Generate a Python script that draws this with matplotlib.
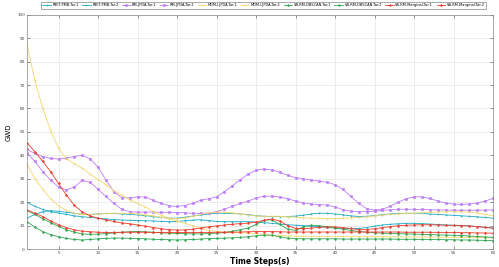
import matplotlib
matplotlib.use('Agg')
import matplotlib.pyplot as plt
import numpy as np

# time steps 1..60
t = np.arange(1, 61)

# GWD per method / target
pmb_t1 = [20, 18.3, 16.9, 16, 15.4, 14.8, 14.2, 13.8, 13.5, 13.2,
          12.9, 12.6, 12.4, 12.3, 12.2, 12.1, 12, 11.8, 11.7, 11.8,
          12.1, 12.4, 12.5, 12.2, 11.8, 11.7, 11.7, 11.7, 11.7, 11.6,
          11.3, 11, 10.7, 10.4, 10.2, 10, 9.8, 9.6, 9.3, 9,
          8.9, 8.8, 8.8, 9.2, 9.8, 10.3, 10.6, 10.8, 11, 11,
          10.9, 10.7, 10.5, 10.3, 10.2, 10.1, 9.9, 9.6, 9.3, 9]
pmb_t2 = [13.2, 14.8, 16, 16.4, 16.1, 15.7, 15.3, 14.8, 14.8, 15,
          15.2, 15.2, 15, 14.8, 14.6, 14.3, 13.9, 13.5, 13.2, 13.2,
          13.6, 14.1, 14.6, 15, 15.3, 15.3, 15.2, 15, 14.7, 14.3,
          14, 13.9, 13.9, 13.9, 14.1, 14.5, 15, 15.3, 15.3, 15,
          14.6, 14.2, 13.9, 14, 14.3, 14.7, 15, 15.2, 15.3, 15.3,
          15.2, 15, 14.8, 14.6, 14.4, 14.2, 14, 13.8, 13.5, 13.2]
jpda_t1 = [42.5, 40.8, 39.5, 38.7, 38.4, 38.8, 39.5, 40, 38.5, 35,
           29.5, 24.5, 22, 21.8, 22.3, 22.2, 20.8, 19.5, 18.5, 18.2,
           18.6, 19.6, 20.8, 21.5, 22.3, 24.5, 27, 29.6, 32, 33.6,
           34.2, 33.8, 32.8, 31.5, 30.5, 30, 29.5, 29, 28.5, 27.5,
           25.5, 22.5, 19.5, 17.3, 16.6, 17, 18.3, 20, 21.5, 22.3,
           22.3, 21.6, 20.5, 19.6, 19.2, 19.1, 19.2, 19.6, 20.5, 21.6]
jpda_t2 = [41, 37.5, 33, 29.5, 26.5, 25.3, 26.5, 29.3, 28.5, 25.5,
           22.5, 19.5, 17, 16, 15.7, 15.8, 15.8, 15.7, 15.7, 15.6,
           15.5, 15.3, 15.2, 15.4, 16, 17, 18.3, 19.5, 20.5, 21.8,
           22.5, 22.6, 22.2, 21.5, 20.5, 19.7, 19.2, 19, 18.8, 18,
           16.8, 16.2, 16, 16, 16.2, 16.5, 16.8, 17, 17, 17,
           16.9, 16.8, 16.7, 16.7, 16.6, 16.6, 16.6, 16.6, 16.6, 16.7]
ljpda_t1 = [87.5, 72, 60, 50.5, 43, 38.5, 36.5, 34.5, 32, 29.6,
            27.5, 25, 23, 21, 19.5, 18, 16, 14.5, 13, 12,
            11, 10, 9, 8, 7.6, 7.3, 7.2, 7, 6.8, 6.6,
            6.3, 6, 5.8, 5.6, 5.5, 5.5, 5.4, 5.4, 5.4, 5.4,
            5.4, 5.3, 5.3, 5.3, 5.3, 5.3, 5.3, 5.2, 5.2, 5.2,
            5.2, 5.1, 5.1, 5.1, 5, 5, 5, 4.9, 4.9, 4.8]
ljpda_t2 = [36.5, 30, 25.5, 21.5, 18.5, 16.5, 15.3, 14.8, 14.8, 15,
            15.2, 15.3, 15.3, 15.2, 15, 14.6, 14.2, 13.6, 13.2, 13,
            13.3, 14, 14.8, 15.5, 15.8, 15.8, 15.5, 15, 14.5, 14.2,
            14, 14, 14, 13.8, 13.6, 13.4, 13.2, 13.2, 13, 13,
            13.2, 13.3, 13.5, 13.8, 14.2, 14.5, 14.8, 15, 15.2, 15.3,
            15.5, 15.7, 15.8, 15.9, 16, 15.9, 15.8, 15.4, 14.8, 14.2]
dbscan_t1 = [16.5, 14.8, 13, 11.3, 9.7, 8.3, 7.2, 6.5, 6.3, 6.4,
             6.6, 6.9, 7.2, 7.4, 7.5, 7.4, 7.2, 7, 6.8, 6.7,
             6.6, 6.5, 6.5, 6.6, 6.8, 7.1, 7.6, 8.3, 9, 10.5,
             12.3, 12.5, 10.5, 8.5, 8, 9.5, 10.2, 10, 9.5, 9,
             8.5, 8, 7.5, 7.2, 7, 6.8, 6.7, 6.6, 6.5, 6.4,
             6.3, 6.2, 6.1, 6, 5.9, 5.8, 5.6, 5.4, 5.2, 5]
dbscan_t2 = [11.7, 9.4, 7.5, 6.2, 5.3, 4.6, 4.1, 3.9, 4.1, 4.4,
             4.6, 4.7, 4.7, 4.6, 4.5, 4.4, 4.2, 4.1, 4, 3.9,
             4, 4.1, 4.3, 4.5, 4.6, 4.7, 4.8, 5, 5.3, 5.7,
             6, 5.9, 5.3, 4.7, 4.5, 4.4, 4.4, 4.4, 4.4, 4.4,
             4.3, 4.3, 4.3, 4.3, 4.3, 4.3, 4.3, 4.2, 4.2, 4.2,
             4.1, 4.1, 4.1, 4, 4, 3.9, 3.9, 3.8, 3.7, 3.6]
marg_t1 = [45.4, 41.5, 37.5, 33, 28, 23, 18.7, 15.8, 14.2, 13.2,
           12.5, 11.8, 11.2, 10.8, 10.3, 9.8, 9.2, 8.7, 8.3, 8.1,
           8.2, 8.5, 9, 9.5, 9.9, 10.3, 10.6, 10.9, 11.1, 11.5,
           12.3, 12.8, 12, 10, 8.8, 8.7, 9, 9.3, 9.5, 9.5,
           9.2, 8.8, 8.3, 8.3, 8.7, 9.2, 9.6, 10, 10.2, 10.3,
           10.4, 10.4, 10.3, 10.2, 10.1, 10, 9.9, 9.6, 9.3, 8.9]
marg_t2 = [16.7, 15.3, 13.9, 12, 10.4, 9.2, 8.2, 7.7, 7.4, 7.2,
           7.1, 7.1, 7.2, 7.2, 7.2, 7.2, 7.1, 7.1, 7.1, 7.1,
           7.1, 7.1, 7.1, 7.1, 7.2, 7.2, 7.2, 7.3, 7.4, 7.5,
           7.5, 7.5, 7.4, 7.3, 7.3, 7.3, 7.3, 7.3, 7.3, 7.3,
           7.3, 7.3, 7.3, 7.3, 7.3, 7.3, 7.3, 7.3, 7.2, 7.2,
           7.2, 7.2, 7.1, 7.1, 7.1, 7, 7, 6.9, 6.9, 6.8]

series = [
    ('RM-T-PMB-Tar.1', pmb_t1, '#19a9c9', '+'),
    ('RM-T-PMB-Tar.2', pmb_t2, '#19a9c9', '+'),
    ('RM-JPDA-Tar.1', jpda_t1, '#bd7cf7', 's'),
    ('RM-JPDA-Tar.2', jpda_t2, '#bd7cf7', 's'),
    ('MDM-LJPDA-Tar.1', ljpda_t1, '#f4d56c', '+'),
    ('MDM-LJPDA-Tar.2', ljpda_t2, '#f4d56c', '+'),
    ('VB-RM-DBSCAN-Tar.1', dbscan_t1, '#2ea651', '*'),
    ('VB-RM-DBSCAN-Tar.2', dbscan_t2, '#2ea651', '*'),
    ('VB-RM-Marginal-Tar.1', marg_t1, '#ee3a2a', '*'),
    ('VB-RM-Marginal-Tar.2', marg_t2, '#ee3a2a', '*'),
]

fig = plt.figure(figsize=(4.99, 2.67), dpi=100)
ax = fig.add_axes([0.054, 0.067, 0.934, 0.878])

for name, vals, col, mk in series:
    ax.plot(t, vals, color=col, marker=mk, markersize=1.6, linewidth=0.6,
            markeredgewidth=0.4, label=name)

ax.set_xlim(1, 60)
ax.set_ylim(0, 100)
ax.set_xticks(np.arange(5, 61, 5))
ax.set_yticks(np.arange(0, 101, 10))
ax.grid(True, color='#e6e6e6', linewidth=0.5)
ax.tick_params(labelsize=3, length=2, width=0.4, direction='in',
               top=True, right=True, colors='#444444', pad=1.5)
for s in ax.spines.values():
    s.set_color('#888888')
    s.set_linewidth(0.5)

ax.set_xlabel('Time Steps(s)', fontsize=5.5, fontweight='bold', labelpad=1)
ax.set_ylabel('GWD', fontsize=5, labelpad=4)

leg = fig.legend(loc='upper center', bbox_to_anchor=(0.528, 0.998), ncol=10,
                 fontsize=2.6, frameon=True, handlelength=2.4, columnspacing=0.9,
                 handletextpad=0.4, borderpad=0.5, borderaxespad=0.3,
                 fancybox=False)
leg.get_frame().set_linewidth(0.4)
leg.get_frame().set_edgecolor('#444444')

fig.savefig('out.png', dpi=100)
